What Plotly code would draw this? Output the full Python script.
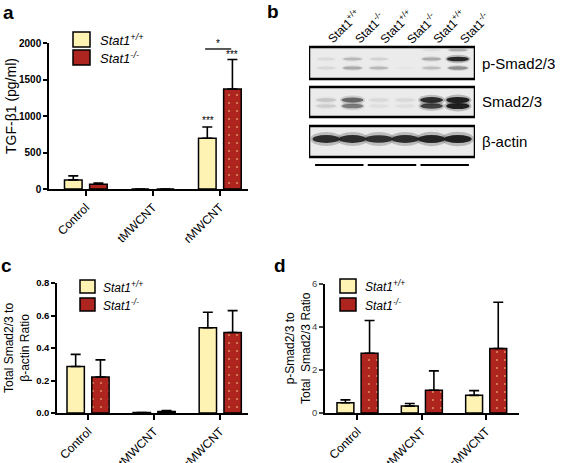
import plotly.graph_objects as go

W, H = 566, 463
FONT = "Liberation Sans, Arial, Helvetica, sans-serif"

# ---------------- data ----------------
categories = ["Control", "tMWCNT", "rMWCNT"]
series_names = ["Stat1+/+", "Stat1-/-"]

# panel a: TGF-b1 (pg/ml)
a_wt = [125, 0, 695]
a_wt_err = [55, 0, 155]
a_ko = [65, 0, 1370]
a_ko_err = [17, 0, 405]
a_ticks = [0, 500, 1000, 1500, 2000]

# panel c: Total Smad2/3 to b-actin ratio
c_wt = [0.286, 0.003, 0.525]
c_wt_err = [0.075, 0.0, 0.095]
c_ko = [0.222, 0.010, 0.495]
c_ko_err = [0.105, 0.005, 0.135]
c_ticks = [0.0, 0.2, 0.4, 0.6, 0.8]

# panel d: p-Smad2/3 to total Smad2/3 ratio
d_wt = [0.48, 0.32, 0.82]
d_wt_err = [0.13, 0.12, 0.22]
d_ko = [2.78, 1.06, 3.00]
d_ko_err = [1.52, 0.90, 2.15]
d_ticks = [0, 2, 4, 6]

# panel b: western blot band intensities (0 = none, 1 = black), lanes 1..6
blot_lane_labels = ["Stat1<sup>+/+</sup>", "Stat1<sup>-/-</sup>"] * 3
blot_groups = ["Control", "tMWCNT", "rMWCNT"]
blot_rows = ["p-Smad2/3", "Smad2/3", "β-actin"]
psmad_top = [0.0, 0.0, 0.0, 0.0, 0.05, 0.25]
psmad_upper = [0.06, 0.22, 0.10, 0.0, 0.28, 0.95]
psmad_lower = [0.08, 0.28, 0.22, 0.02, 0.18, 0.40]
smad_upper = [0.15, 0.60, 0.07, 0.07, 0.92, 1.0]
smad_lower = [0.12, 0.50, 0.05, 0.05, 0.80, 1.0]
actin = [0.92, 0.92, 0.90, 0.92, 0.97, 1.0]

# ---------------- helpers ----------------
YELLOW = "#FFF3B4"
RED = "#AE2520"


def px(x):
    return x / W


def py(y):
    return 1 - y / H


fig = go.Figure()


def add_bars(xa, ya, wt, wt_err, ko, ko_err, cap):
    for name, vals, err, col, pat in [
        (series_names[0], wt, wt_err, YELLOW, None),
        (series_names[1], ko, ko_err, RED, True),
    ]:
        marker = dict(color=col, line=dict(color="black", width=1.5))
        if pat:
            marker["pattern"] = dict(shape=".", fgcolor="#D98A5A", bgcolor=col,
                                     size=8, solidity=0.06)
        fig.add_trace(go.Bar(
            x=categories, y=vals, name=name, xaxis=xa, yaxis=ya,
            marker=marker, showlegend=False,
            error_y=dict(type="data", array=err, arrayminus=[0] * len(err),
                         symmetric=False, color="black", thickness=1.6, width=cap),
        ))


add_bars("x", "y", a_wt, a_wt_err, a_ko, a_ko_err, 5)
add_bars("x2", "y2", c_wt, c_wt_err, c_ko, c_ko_err, 5)
add_bars("x3", "y3", d_wt, d_wt_err, d_ko, d_ko_err, 5)

axis_common = dict(showline=True, linecolor="black", linewidth=1.5, ticks="outside",
                   tickcolor="black", tickwidth=1.5, ticklen=5, showgrid=False,
                   zeroline=False, fixedrange=True, automargin=False)

fig.update_layout(
    template="none",
    width=W, height=H, margin=dict(l=0, r=0, t=0, b=0, pad=0),
    paper_bgcolor="white", plot_bgcolor="rgba(0,0,0,0)",
    font=dict(family=FONT, color="black"),
    barmode="group", bargap=0.25, bargroupgap=0.3,
    xaxis=dict(axis_common, domain=[px(49), px(248)], range=[-0.55, 2.42],
               anchor="y", tickangle=-45, tickfont=dict(size=12)),
    yaxis=dict(axis_common, domain=[py(189), py(43)], range=[0, 2000], anchor="x",
               tickvals=a_ticks, ticklen=4,
               tickfont=dict(size=10, weight="bold")),
    xaxis2=dict(axis_common, domain=[px(57), px(248)], range=[-0.47, 2.42],
                anchor="y2", tickangle=-45, tickfont=dict(size=12)),
    yaxis2=dict(axis_common, domain=[py(413), py(283)], range=[0, 0.8], anchor="x2",
                tickvals=c_ticks, tickformat=".1f", ticklen=4,
                tickfont=dict(size=9.5, weight="bold")),
    xaxis3=dict(axis_common, domain=[px(325), px(519)], range=[-0.505, 2.51],
                anchor="y3", tickangle=-45, tickfont=dict(size=12)),
    yaxis3=dict(axis_common, domain=[py(413), py(284)], range=[0, 6], anchor="x3",
                tickvals=d_ticks, ticklen=4, tickcolor="#444",
                tickfont=dict(size=9.5, color="#444")),
    xaxis4=dict(domain=[px(309), px(475)], range=[0.35, 6.65], anchor="y4",
                visible=False, fixedrange=True, automargin=False),
    yaxis4=dict(domain=[py(170), py(40)], range=[123, -7], anchor="x4",
                visible=False, fixedrange=True, automargin=False),
)

shapes = []
ann = []


def pann(text, x, y, size, angle=0, xanchor="center", yanchor="middle", **kw):
    ann.append(dict(text=text, x=px(x), y=py(y), xref="paper", yref="paper",
                    xanchor=xanchor, yanchor=yanchor, showarrow=False,
                    textangle=angle, font=dict(size=size, color="black"), **kw))


# ---------------- panel labels ----------------
for t, x, y in [("a", 8, 12), ("b", 273, 11), ("c", 6, 265), ("d", 280, 265)]:
    pann(f"<b>{t}</b>", x, y, 19)

# ---------------- y-axis titles ----------------
pann("TGF-β1 (pg/ml)", 11, 106, 14, angle=-90)
pann("Total Smad2/3 to<br>β-actin Ratio", 17, 348, 12, angle=-90)
pann("p-Smad2/3 to<br>Total  Smad2/3 Ratio", 298, 348, 12, angle=-90)


# ---------------- manual legends ----------------
def legend(x0, x1, ys, tx, fs):
    labels = ["<i>Stat1</i><sup><i>+/+</i></sup>", "<i>Stat1</i><sup><i>-/-</i></sup>"]
    for (y0, y1), col, lab in zip(ys, [YELLOW, RED], labels):
        shapes.append(dict(type="rect", xref="paper", yref="paper", x0=px(x0), x1=px(x1),
                           y0=py(y1), y1=py(y0), fillcolor=col,
                           line=dict(color="black", width=1.5)))
        pann(lab, tx, (y0 + y1) / 2, fs, xanchor="left")


legend(73, 90, [(32, 47), (50, 65)], 98, 13)
legend(80, 95, [(280, 293), (298, 311)], 101, 12)
legend(340, 356, [(279, 293), (298, 311)], 363, 12)

# ---------------- significance marks (panel a) ----------------
star_font = dict(size=10, color="black")
ann.append(dict(text="***", x=2, xshift=-12, y=a_wt[2] + a_wt_err[2], yshift=6,
                xref="x", yref="y", xanchor="center", yanchor="middle",
                showarrow=False, font=star_font))
ann.append(dict(text="***", x=2, xshift=12, y=a_ko[2] + a_ko_err[2], yshift=5,
                xref="x", yref="y", xanchor="center", yanchor="middle",
                showarrow=False, font=star_font))
shapes.append(dict(type="line", xref="x", yref="y", x0=1.78, x1=2.17, y0=1918, y1=1918,
                   line=dict(color="black", width=1.3)))
ann.append(dict(text="*", x=1.975, y=1918, yshift=5, xref="x", yref="y",
                xanchor="center", yanchor="middle", showarrow=False, font=star_font))

# ---------------- western blot (panel b) ----------------
boxes = [(0, 32), (40, 70), (79, 110)]
for (y0, y1) in boxes:
    shapes.append(dict(type="rect", xref="x4", yref="y4", x0=0.35, x1=6.65, y0=y0, y1=y1,
                       fillcolor="#EBEBEB", line=dict(width=0), layer="below"))


def bands(vals, yc, h, w):
    for i, v in enumerate(vals):
        if v <= 0:
            continue
        lane = i + 1
        hh = h * (0.75 + 0.6 * v)
        ww = w * (0.85 + 0.2 * v)
        # soft halo
        shapes.append(dict(type="circle", xref="x4", yref="y4",
                           x0=lane - ww * 0.58, x1=lane + ww * 0.58,
                           y0=yc - hh * 0.9, y1=yc + hh * 0.9,
                           fillcolor=f"rgba(30,30,30,{0.25 * v:.3f})", line=dict(width=0)))
        shapes.append(dict(type="circle", xref="x4", yref="y4",
                           x0=lane - ww / 2, x1=lane + ww / 2,
                           y0=yc - hh / 2, y1=yc + hh / 2,
                           fillcolor=f"rgba(15,15,15,{min(1, 0.9 * v):.3f})",
                           line=dict(width=0)))


bands(psmad_top, 3, 3, 0.8)
bands(psmad_upper, 12, 3.5, 0.8)
bands(psmad_lower, 21, 3.5, 0.8)
bands(smad_upper, 53, 4.5, 0.85)
bands(smad_lower, 59, 4.5, 0.85)
bands(actin, 92, 6, 1.0)

for (y0, y1) in boxes:
    shapes.append(dict(type="rect", xref="x4", yref="y4", x0=0.35, x1=6.65, y0=y0, y1=y1,
                       fillcolor="rgba(0,0,0,0)", line=dict(color="black", width=2.5)))

for (lab, yc) in zip(blot_rows, [16, 55, 94]):
    pann(lab, 480, 47 + yc, 15, xanchor="left")

for i, lab in enumerate(blot_lane_labels):
    ann.append(dict(text=lab, x=i + 1, xshift=-5, y=2, xref="x4", yref="y4",
                    xanchor="left", yanchor="bottom", textangle=-45, showarrow=False,
                    font=dict(size=12, color="black")))

for g, lab in enumerate(blot_groups):
    a0 = 2 * g + 1 - 0.42
    a1 = 2 * g + 2 + 0.42
    shapes.append(dict(type="line", xref="x4", yref="y4", x0=a0, x1=a1, y0=118, y1=118,
                       line=dict(color="black", width=1.8)))
    ann.append(dict(text=lab, x=(a0 + a1) / 2 + 0.1, y=128, xref="x4", yref="y4",
                    xanchor="right", yanchor="top", textangle=-45, showarrow=False,
                    font=dict(size=12, color="black")))

fig.update_layout(shapes=shapes, annotations=ann)
fig.write_html("out.html", config={"displayModeBar": False},
               post_script="document.body.style.margin='0px';")
